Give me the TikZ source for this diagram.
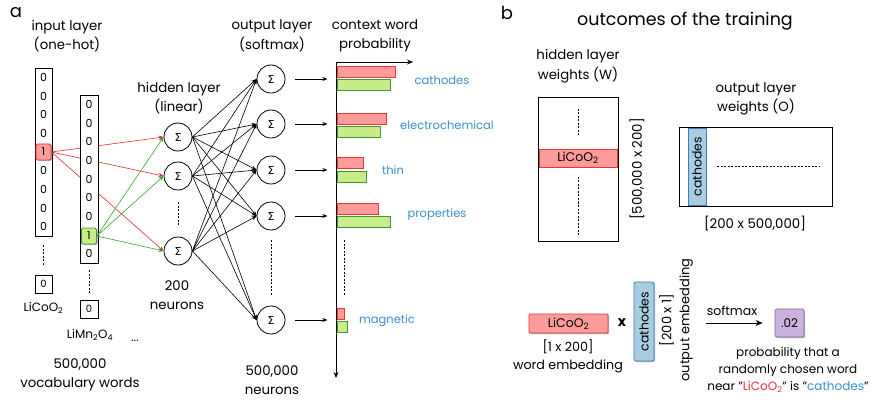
\documentclass[tikz,border=0pt]{standalone}
\usepackage{fontspec}
\setmainfont{Poppins}
\newfontfamily\dejavu{DejaVu Sans}
\usetikzlibrary{arrows.meta,shadows}
\definecolor{rfill}{HTML}{FF9B9B}
\definecolor{rdraw}{HTML}{E03A3A}
\definecolor{gfill}{HTML}{C8EC8A}
\definecolor{gdraw}{HTML}{3C9A34}
\definecolor{bfill}{HTML}{A8CDE2}
\definecolor{bdraw}{HTML}{3D7EB8}
\definecolor{pfill}{HTML}{C9B2DB}
\definecolor{pdraw}{HTML}{8E62A9}
\definecolor{wblue}{HTML}{3B8FD0}
\definecolor{rline}{HTML}{E53030}
\definecolor{gline}{HTML}{3AA035}
\tikzset{
  lab/.style={font=\fontsize{13.3}{19.5}\selectfont, text=black, align=center},
  wlab/.style={font=\fontsize{11.5}{14}\selectfont, text=wblue},
  cellt/.style={font=\fontsize{11}{12}\selectfont, inner sep=0pt},
  colbox/.style={draw, line width=0.9pt, fill=white, inner sep=0pt},
  shad/.style={drop shadow={shadow xshift=1pt, shadow yshift=-1pt, opacity=0.3, fill=black}},
  onecell/.style={shad, rounded corners=1.5pt, line width=0.8pt, minimum width=15pt, minimum height=16pt, inner sep=0pt, font=\fontsize{11}{12}\selectfont},
  neuron/.style={circle, draw, fill=white, line width=0.8pt, minimum size=28pt, inner sep=0pt, font=\dejavu\fontsize{11}{12}\selectfont},
  conn/.style={line width=0.6pt, -{Stealth[length=5pt,width=4pt]}},
  rbar/.style={shad, draw=rdraw, fill=rfill, line width=0.8pt, inner sep=0pt, minimum height=11pt, anchor=north west},
  gbar/.style={shad, draw=gdraw, fill=gfill, line width=0.8pt, inner sep=0pt, minimum height=11pt, anchor=north west},
  vdash/.style={dashed, line width=0.7pt, dash pattern=on 2pt off 1.5pt},
}
\begin{document}
\begin{tikzpicture}[x=1pt,y=-1pt]
\useasboundingbox (0,0) rectangle (884,409);
\fill[white] (0,0) rectangle (884,409);
% ---------- panel a ----------
\node[font=\fontsize{18}{20}\selectfont] (la) at (16,13) {a};
\node[lab] (inlab) at (67,36) {input layer\\(one-hot)};
% column 1
\node[colbox, minimum width=17pt, minimum height=168pt, anchor=north west] (c1) at (35,68) {};
\foreach \i in {0,1,2,3,5,6,7,8} {\node[cellt] (c1z\i) at (43.5,{77.3+18.67*\i}) {0};}
\node[onecell, fill=rfill, draw=rdraw] (red1) at (43.5,152) {1};
\draw[vdash] (43.5,245) coordinate (d1a) -- (43.5,266) coordinate (d1b);
\node[colbox, shad, minimum width=17pt, minimum height=18pt] (c1last) at (43.5,284) {0};
\node[font=\fontsize{12}{14}\selectfont] (licoo) at (43.5,308) {LiCoO\textsubscript{2}};
% hidden neurons
\node[neuron] (h1) at (178,137) {Σ};
\node[neuron] (h2) at (178,176) {Σ};
\node[neuron] (h3) at (178,251) {Σ};
\draw[vdash] (178,202) -- (178,226);
\node[lab] (hidlab) at (179,98) {hidden layer\\(linear)};
\node[lab] (hidn) at (177,295) {200\\neurons};
% red connections (behind column 2)
\foreach \h in {h1,h2,h3} {\draw[conn, rline] (red1.east) -- (\h.west);}
% column 2
\node[colbox, minimum width=18pt, minimum height=168pt, anchor=north west] (c2) at (80,95) {};
\foreach \i in {0,1,2,3,4,5,6,8} {\node[cellt] (c2z\i) at (89,{104.3+18.67*\i}) {0};}
\node[onecell, fill=gfill, draw=gdraw] (green1) at (89,236) {1};
\draw[vdash] (89,270) -- (89,293);
\node[colbox, shad, minimum width=18pt, minimum height=18pt] (c2last) at (89,309) {0};
\node[font=\fontsize{12}{14}\selectfont] (limno) at (90,335) {LiMn\textsubscript{2}O\textsubscript{4}};
\node[font=\fontsize{12}{14}\selectfont] (dots) at (135,341) {...};
\node[lab] (voc) at (80,375) {500,000\\vocabulary words};
\foreach \h in {h1,h2,h3} {\draw[conn, gline] (green1.east) -- (\h.west);}
% output neurons
\node[neuron] (o1) at (271,79) {Σ};
\node[neuron] (o2) at (271,124) {Σ};
\node[neuron] (o3) at (271,170) {Σ};
\node[neuron] (o4) at (271,216) {Σ};
\node[neuron] (o5) at (271,320) {Σ};
\draw[vdash] (271,240) -- (271,296);
\node[lab] (outlab) at (272,36) {output layer\\(softmax)};
\node[lab] (outn) at (272,380) {500,000\\neurons};
\foreach \h in {h1,h2,h3} {
  \foreach \o in {o1,o2,o3,o4,o5} {\draw[conn] (\h.east) -- (\o.west);}
}
\foreach \o in {o1,o2,o3,o4,o5} {\draw[conn] ([xshift=10pt]\o.east) -- ([xshift=42pt]\o.east);}
% probability axis
\node[lab] (ctx) at (375,36) {context word\\probability};
\coordinate (axtop) at (336,62);
\coordinate (axbot) at (336,378);
\coordinate (axright) at (413,62);
\draw[line width=0.9pt, -{Stealth[length=6pt,width=5pt]}] (axtop) -- (axbot);
\draw[line width=0.9pt, -{Stealth[length=6pt,width=5pt]}] (axtop) -- (axright);
\node[rbar, minimum width=58pt] (r1) at (337,66) {};
\node[gbar, minimum width=53pt] (g1) at (337,79) {};
\node[rbar, minimum width=49pt] (r2) at (337,113) {};
\node[gbar, minimum width=43pt] (g2) at (337,126) {};
\node[rbar, minimum width=26pt] (r3) at (337,157) {};
\node[gbar, minimum width=29pt] (g3) at (337,171) {};
\node[rbar, minimum width=41pt] (r4) at (337,203) {};
\node[gbar, minimum width=53pt] (g4) at (337,216) {};
\node[rbar, minimum width=7pt] (r5) at (337,308) {};
\node[gbar, minimum width=10pt] (g5) at (337,321) {};
\draw[vdash] (344,240) -- (344,295);
\node[wlab] (w1) at (442,80) {cathodes};
\node[wlab] (w2) at (447,125) {electrochemical};
\node[wlab] (w3) at (393,170) {thin};
\node[wlab] (w4) at (437,215) {properties};
\node[wlab] (w5) at (387,321) {magnetic};
% ---------- panel b ----------
\node[font=\fontsize{18}{20}\selectfont] (lb) at (507,13) {b};
\node[font=\fontsize{17.5}{20}\selectfont] (title) at (685,21) {outcomes of the training};
\node[lab] (wlabel) at (578,66) {hidden layer\\weights (W)};
\node[draw, shad, fill=white, line width=0.9pt, minimum width=80pt, minimum height=144pt, anchor=north west, inner sep=0pt] (W) at (538,97) {};
\draw[vdash] (578,109) -- (578,137);
\draw[vdash] (578,177) -- (578,235);
\node[draw=rdraw, fill=rfill, line width=0.8pt, minimum width=78pt, minimum height=18pt, inner sep=0pt, font=\fontsize{12.5}{13}\selectfont] (Wrow) at (578,158) {LiCoO\textsubscript{2}};
\node[lab, rotate=90] (wdim) at (637,169) {[500,000 x 200]};
\node[lab] (olabel) at (756,99) {output layer\\weights (O)};
\node[draw, shad, fill=white, line width=0.9pt, minimum width=153pt, minimum height=79pt, anchor=north west, inner sep=0pt] (O) at (679,127) {};
\node[draw=bdraw, fill=bfill, line width=0.8pt, minimum width=18pt, minimum height=77pt, inner sep=0pt] (Ocol) at (697,166.5) {};
\node[rotate=90, font=\fontsize{12.5}{13}\selectfont] (Ocolt) at (697,166.5) {cathodes};
\draw[dashed, line width=0.6pt, dash pattern=on 2pt off 1.5pt] (717,166) -- (819,166);
\node[lab] (odim) at (755,224) {[200 x 500,000]};
% bottom
\node[shad, draw=rdraw, fill=rfill, line width=0.8pt, minimum width=79pt, minimum height=19pt, inner sep=0pt, rounded corners=1pt, font=\fontsize{12.5}{13}\selectfont] (emb) at (568.5,323.5) {LiCoO\textsubscript{2}};
\node[lab, font=\fontsize{12.7}{18}\selectfont] (embl) at (568,356) {[1 x 200]\\word embedding};
\node[font=\bfseries\fontsize{14}{16}\selectfont] (times) at (622,323) {x};
\node[shad, draw=bdraw, fill=bfill, line width=0.8pt, minimum width=20pt, minimum height=79pt, inner sep=0pt, rounded corners=1.5pt] (oemb) at (644,321.5) {};
\node[rotate=90, font=\fontsize{12.5}{13}\selectfont] (oembt) at (644,321.5) {cathodes};
\node[rotate=90, lab, font=\fontsize{13}{18}\selectfont] (oembl) at (676,320) {[200 x 1]\\output embedding};
\node[font=\fontsize{12.5}{13}\selectfont] (smx) at (732,311) {softmax};
\node[shad, draw=pdraw, fill=pfill, line width=0.8pt, minimum width=29pt, minimum height=28pt, inner sep=0pt, rounded corners=1.5pt, font=\fontsize{12}{13}\selectfont] (prob) at (789.5,323) {.02};
\draw[line width=0.9pt, -{Stealth[length=7pt,width=6pt]}] ([xshift=-69pt]prob.west) coordinate (sa) -- ([xshift=-12pt]prob.west);
\node[lab, font=\fontsize{12}{17}\selectfont] (probl) at (788,370) {probability that a\\randomly chosen word\\near "{\color{rline}LiCoO\textsubscript{2}}" is "{\color{wblue}cathodes}"};
\end{tikzpicture}
\end{document}
